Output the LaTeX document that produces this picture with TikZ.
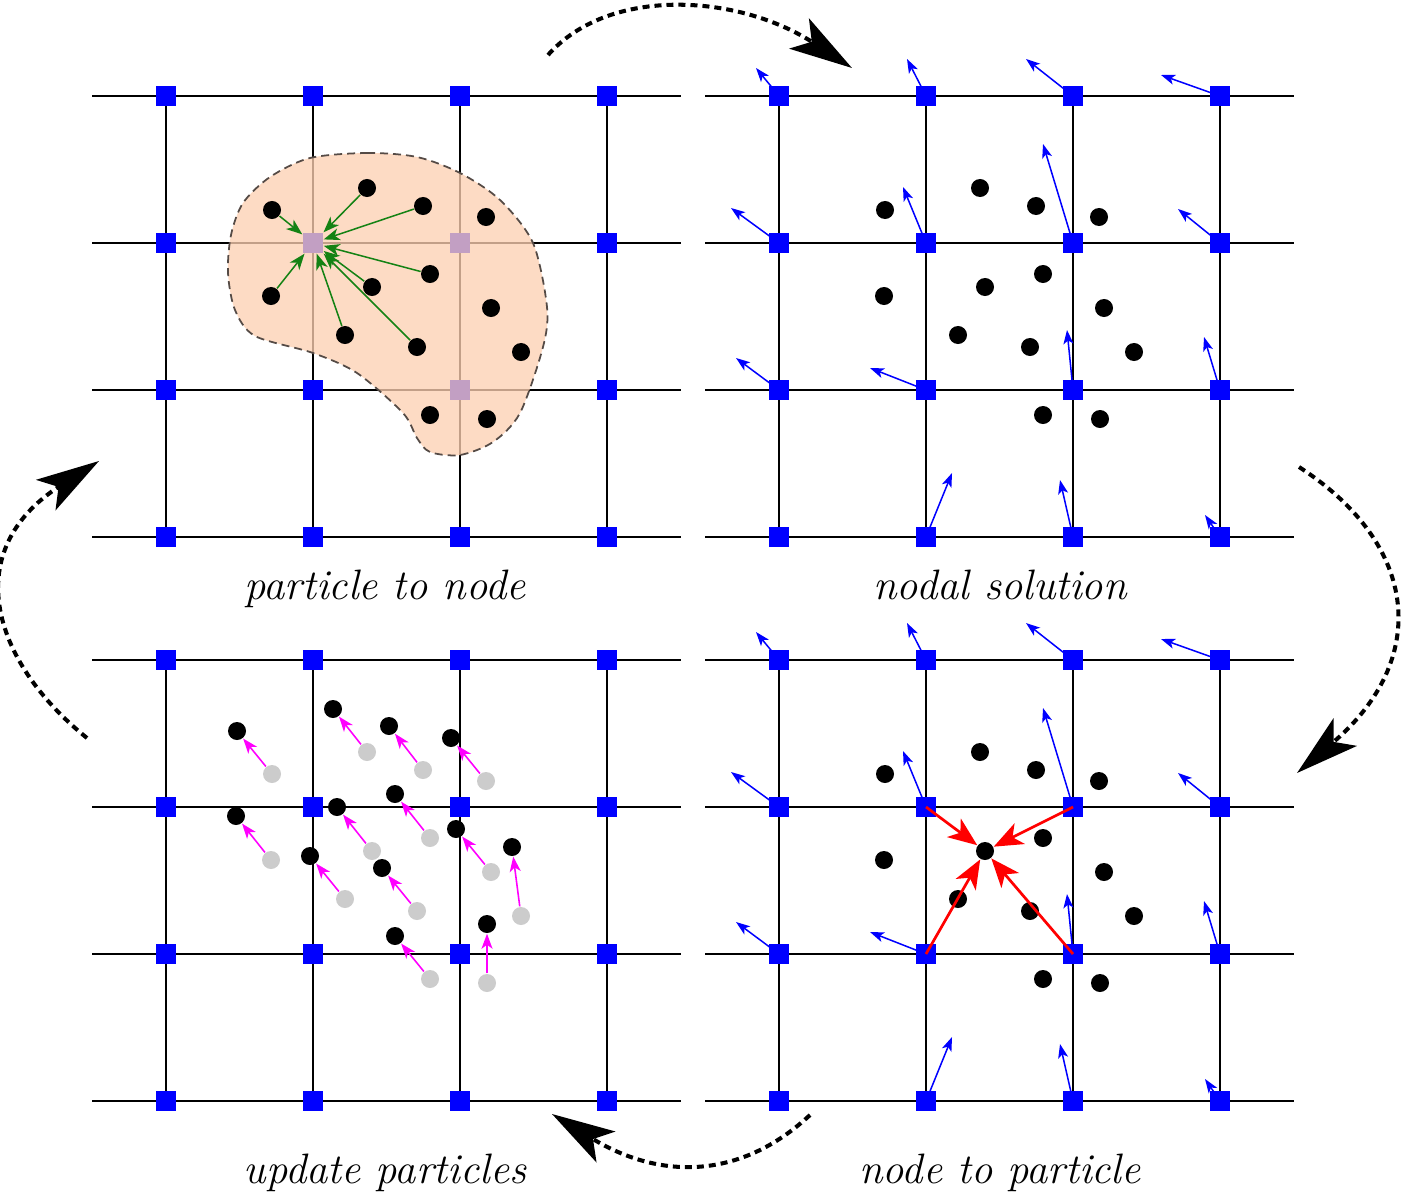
\documentclass[tikz,border=0pt]{standalone}
\usepackage{tikz}
\usetikzlibrary{arrows.meta}

\definecolor{meshblue}{RGB}{0,0,255}
\definecolor{blobfill}{RGB}{253,208,178}
\definecolor{blobedge}{RGB}{85,75,70}
\definecolor{mapgreen}{RGB}{20,130,20}
\definecolor{oldgray}{RGB}{204,204,204}
\definecolor{movemagenta}{RGB}{255,0,255}

% particle offset from the first mesh node / move in the update step
\newcommand{\particlelist}{106/114/-35/-43, 201/92/-34/-43, 257/110/-34/-44,
  320/121/-35/-43, 105/200/-35/-44, 206/191/-35/-44, 264/178/-35/-44,
  325/212/-35/-43, 179/239/-35/-43, 251/251/-35/-43, 355/256/-9/-69,
  264/319/-35/-43, 321/323/0/-59}

% nodal velocities (column/row/dx/dy)
\newcommand{\velocitylist}{0/0/-23/-28, 1/0/-19/-37, 2/0/-47/-37, 3/0/-59/-21,
  0/1/-48/-35, 1/1/-23/-56, 2/1/-30/-99, 3/1/-42/-34,
  0/2/-43/-32, 1/2/-56/-22, 2/2/-6/-60, 3/2/-16/-53,
  1/3/26/-64, 2/3/-13/-57, 3/3/-15/-22}

\newcommand{\meshpanel}[3]{%
  \foreach \j in {0,...,3}
    \draw[meshline] (#2-74,{#3+147*\j}) -- (#2+515,{#3+147*\j});
  \foreach \i in {0,...,3}
    \draw[meshline] ({#2+147*\i},#3) -- ({#2+147*\i},#3+441);
  \foreach \i in {0,...,3}
    \foreach \j in {0,...,3}
      \node[meshnode] (#1-\i-\j) at ({#2+147*\i},{#3+147*\j}) {};
}

\newcommand{\velocities}[1]{%
  \foreach \i/\j/\dx/\dy in \velocitylist {
    \path (#1-\i-\j.center) ++(\dx,\dy) coordinate (#1-v-\i-\j);
    \draw[velarrow] (#1-\i-\j.center) -- (#1-v-\i-\j);
  }
}

\newcommand{\particles}[3]{%
  \foreach \px/\py/\dx/\dy [count=\k] in \particlelist
    \node[particle] (#1-p\k) at ({#2+\px},{#3+\py}) {};
}

\begin{document}
\begin{tikzpicture}[x=0.01cm,y=-0.01cm,
    meshline/.style={line width=0.57pt,black},
    meshnode/.style={rectangle,fill=meshblue,inner sep=0pt,minimum size=0.2cm},
    particle/.style={circle,fill=black,inner sep=0pt,minimum size=0.18cm},
    oldparticle/.style={circle,fill=oldgray,inner sep=0pt,minimum size=0.18cm},
    blob/.style={fill=blobfill,fill opacity=0.77,draw=blobedge,line width=0.5pt,
      dash pattern=on 0.08cm off 0.05cm},
    maparrow/.style={mapgreen,line width=0.43pt,
      -{Stealth[length=0.16cm,width=0.12cm,inset=0.045cm]}},
    velarrow/.style={meshblue,line width=0.43pt,
      -{Stealth[length=0.14cm,width=0.1cm,inset=0.035cm]}},
    movearrow/.style={movemagenta,line width=0.45pt,
      -{Stealth[length=0.15cm,width=0.11cm,inset=0.04cm]}},
    interparrow/.style={red,line width=0.77pt,
      -{Stealth[length=0.29cm,width=0.23cm,inset=0.08cm]}},
    cyclearrow/.style={black,line width=1.15pt,dash pattern=on 0.07cm off 0.05cm,
      -{Stealth[length=0.63cm,width=0.36cm,inset=0.15cm]}},
    caption/.style={anchor=base,font=\fontsize{12.1}{14}\selectfont\itshape}]

  \useasboundingbox (0,0) rectangle (1401,1197);

  % particle to node
  \meshpanel{tl}{166}{96}
  \draw[blob] plot[smooth cycle] coordinates {(310,158) (367,153) (417,157)
    (460,173) (500,200) (533,243) (547,307) (543,347) (520,413) (493,442)
    (460,455) (430,452) (417,438) (403,413) (357,373) (313,353) (255,336)
    (235,310) (228,273) (231,235) (243,203) (270,177)};
  \particles{tl}{166}{96}
  \foreach \k in {1,2,3,5,6,7,9,10}
    \draw[maparrow] (tl-p\k) -- (tl-1-1);
  \node[caption] (lab-tl) at (385,599) {particle to node};

  % nodal solution
  \meshpanel{tr}{779}{96}
  \velocities{tr}
  \particles{tr}{779}{96}
  \node[caption] (lab-tr) at (1000,599) {nodal solution};

  % node to particle
  \meshpanel{br}{779}{660}
  \velocities{br}
  \particles{br}{779}{660}
  \foreach \i/\j in {1/1,2/1,1/2,2/2}
    \draw[interparrow] (br-\i-\j.center) -- (br-p6);
  \node[caption] (lab-br) at (1000,1183) {node to particle};

  % update particles
  \meshpanel{bl}{166}{660}
  \foreach \px/\py/\dx/\dy [count=\k] in \particlelist {
    \node[oldparticle] (bl-o\k) at ({166+\px},{660+\py}) {};
    \node[particle] (bl-p\k) at ({166+\px+\dx},{660+\py+\dy}) {};
    \draw[movearrow] (bl-o\k) -- (bl-p\k);
  }
  \node[caption] (lab-bl) at (385,1183) {update particles};

  % cycle
  \coordinate (c1a) at (548,55);
  \coordinate (c1b) at (852,68);
  \coordinate (c2a) at (1299,467);
  \coordinate (c2b) at (1297,773);
  \coordinate (c3a) at (810,1115);
  \coordinate (c3b) at (552,1114);
  \coordinate (c4a) at (87,738);
  \coordinate (c4b) at (99,461);
  \draw[cyclearrow] (c1a) .. controls (610,-15) and (740,-5) .. (c1b);
  \draw[cyclearrow] (c2a) .. controls (1420,545) and (1430,660) .. (c2b);
  \draw[cyclearrow] (c3a) .. controls (740,1180) and (660,1180) .. (c3b);
  \draw[cyclearrow] (c4a) .. controls (-10,660) and (-40,550) .. (c4b);
\end{tikzpicture}
\end{document}
